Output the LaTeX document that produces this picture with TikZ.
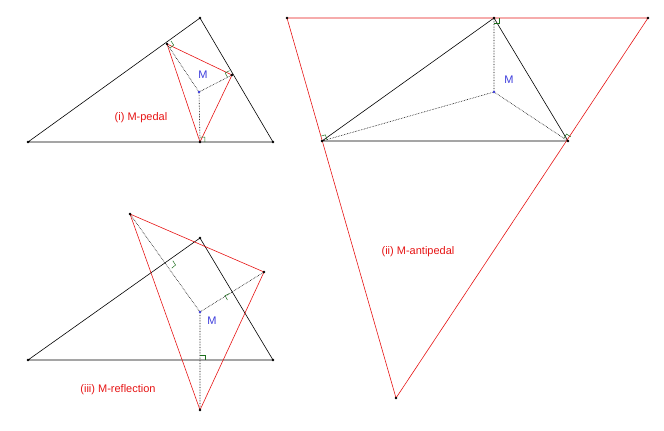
\documentclass[tikz,border=0pt]{standalone}
\usepackage{fontspec}
\setmainfont{Liberation Sans}
\usetikzlibrary{calc}
\definecolor{mred}{RGB}{230,20,20}
\definecolor{mblue}{RGB}{60,60,220}
\definecolor{mgreen}{RGB}{30,110,30}
\tikzset{tri/.style={black,line width=0.6pt},red/.style={mred,line width=0.6pt},dot/.style={densely dotted,line width=0.6pt},
pt/.style={circle,fill=black,inner sep=0.9pt},rpt/.style={circle,fill=mred!70!black,inner sep=0.8pt},
lab/.style={text=mred,font=\fontsize{11}{13}\selectfont},mlab/.style={text=mblue,font=\fontsize{11}{13}\selectfont}}
\newcommand{\rtmark}[3]{\draw[mgreen,line width=0.5pt] ($(#1)!5pt!(#2)$) -- ($($(#1)!5pt!(#2)$)+($(#1)!5pt!(#3)$)-(#1)$) -- ($(#1)!5pt!(#3)$);}
\begin{document}
\begin{tikzpicture}[x=1pt,y=-1pt]
\useasboundingbox (0,0) rectangle (664,431);
% (i)
\coordinate (A1) at (28,142); \coordinate (B1) at (273,142); \coordinate (C1) at (200,18); \coordinate (M1) at (199,92);
\coordinate (P1) at (167,44); \coordinate (Q1) at (232,75); \coordinate (R1) at (200,142);
\draw[tri] (A1)--(B1)--(C1)--cycle;
\draw[red] (P1)--(Q1)--(R1)--cycle;
\draw[dot] (M1)--(P1) (M1)--(Q1) (M1)--(R1);
\rtmark{P1}{M1}{C1}\rtmark{Q1}{M1}{C1}\rtmark{R1}{M1}{B1}
\foreach \p in {A1,B1,C1,P1,Q1,R1} \node[pt] at (\p) {};
\node[circle,fill=mblue,inner sep=0.9pt] (m1) at (M1) {};
\node[mlab] (lm1) at (203,75) {M};
\node[lab] (l1) at (141,118) {(i) M-pedal};
% (ii)
\coordinate (A2) at (322,141); \coordinate (B2) at (568,141); \coordinate (C2) at (494,18); \coordinate (M2) at (494,92);
\coordinate (P2) at (287,18); \coordinate (Q2) at (648,18); \coordinate (R2) at (396,398);
\draw[tri] (A2)--(B2)--(C2)--cycle;
\draw[red] (P2)--(Q2)--(R2)--cycle;
\draw[dot] (M2)--(A2) (M2)--(B2) (M2)--(C2);
\rtmark{A2}{M2}{P2}\rtmark{B2}{M2}{Q2}\rtmark{C2}{M2}{Q2}
\foreach \p in {A2,B2,C2,P2,Q2,R2} \node[pt] at (\p) {};
\node[circle,fill=mblue,inner sep=0.9pt] (m2) at (M2) {};
\node[mlab] (lm2) at (509,80) {M};
\node[lab] (l2) at (418,252) {(ii) M-antipedal};
% (iii)
\coordinate (A3) at (28,360); \coordinate (B3) at (273,360); \coordinate (C3) at (200,238); \coordinate (M3) at (200,312);
\coordinate (P3) at (130,214); \coordinate (Q3) at (264,272); \coordinate (R3) at (200,410);
\coordinate (F1) at (169,264); \coordinate (F2) at (232,298); \coordinate (F3) at (200,360);
\draw[tri] (A3)--(B3)--(C3)--cycle;
\draw[red] (P3)--(Q3)--(R3)--cycle;
\draw[dot] (M3)--(P3) (M3)--(Q3) (M3)--(R3);
\rtmark{F1}{M3}{C3}\rtmark{F2}{M3}{C3}\rtmark{F3}{M3}{B3}
\foreach \p in {A3,B3,C3,P3,Q3,R3} \node[pt] at (\p) {};
\node[circle,fill=mblue,inner sep=0.9pt] (m3) at (M3) {};
\node[mlab] (lm3) at (212,321) {M};
\node[lab] (l3) at (118,390) {(iii) M-reflection};
\end{tikzpicture}
\end{document}
